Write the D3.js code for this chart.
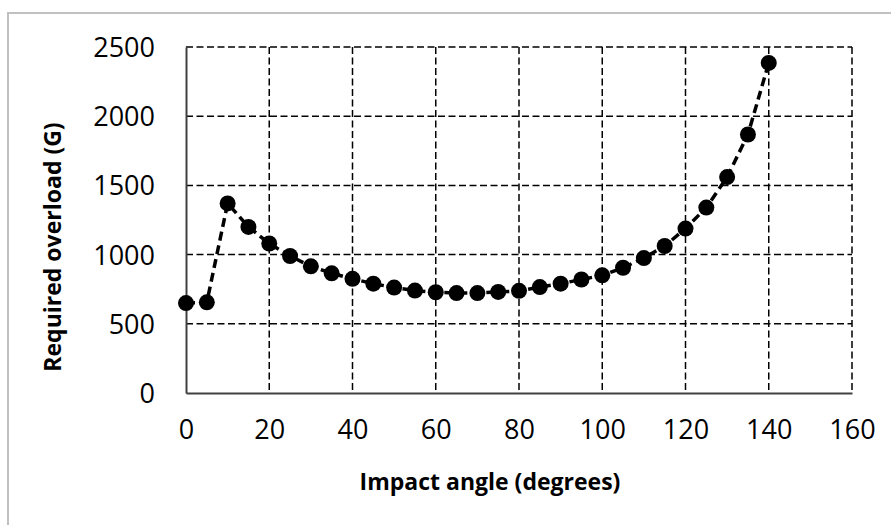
<!DOCTYPE html>
<html>
<head>
<meta charset="utf-8">
<script src="https://cdn.jsdelivr.net/npm/d3@7"></script>
<style>
  body { margin: 0; background: #fff; }
  svg { display: block; font-family: "Open Sans", sans-serif; }
  .tick-text { font-size: 27px; fill: #000; font-family: "Open Sans", sans-serif; }
  .axis-label { font-size: 23px; font-weight: bold; fill: #000; font-family: "Open Sans", sans-serif; }
  .grid-line { stroke: #000; stroke-width: 1.5; stroke-dasharray: 7 3.5; }
</style>
</head>
<body>
<svg id="chart" width="891" height="525"></svg>
<script>
// ── DATA ──────────────────────────────────────────────────────────────────
const angles = [0, 5, 10, 15, 20, 25, 30, 35, 40, 45, 50, 55, 60, 65, 70,
  75, 80, 85, 90, 95, 100, 105, 110, 115, 120, 125, 130, 135, 140];
const overload = [650, 655, 1370, 1200, 1080, 990, 915, 865, 825, 790, 762,
  740, 728, 722, 722, 730, 738, 765, 790, 820, 850, 905, 975, 1062, 1188,
  1340, 1560, 1868, 2385];
const xTicks = [0, 20, 40, 60, 80, 100, 120, 140, 160];
const yTicks = [0, 500, 1000, 1500, 2000, 2500];

const svg = d3.select("#chart");
const margin = { top: 47, right: 39, bottom: 132, left: 186 };
const width = 891, height = 525;
const innerWidth = width - margin.left - margin.right;
const innerHeight = height - margin.top - margin.bottom;

// outer frame (only top & left edges fall inside the picture)
svg.append("path")
  .attr("d", `M8,${height} V13 H${width}`)
  .attr("fill", "none")
  .attr("stroke", "#c0c0c0")
  .attr("stroke-width", 2);

const xScale = d3.scaleLinear().domain([0, 160]).range([0, innerWidth]);
const yScale = d3.scaleLinear().domain([0, 2500]).range([innerHeight, 0]);

const group = svg.append("g")
  .attr("transform", `translate(${margin.left},${margin.top})`);

// grid lines
group.append("g").selectAll("line")
  .data(xTicks.filter((d) => d > 0))
  .join("line")
  .attr("class", "grid-line")
  .attr("x1", (d) => xScale(d)).attr("x2", (d) => xScale(d))
  .attr("y1", 0).attr("y2", innerHeight);
group.append("g").selectAll("line")
  .data(yTicks.filter((d) => d > 0))
  .join("line")
  .attr("class", "grid-line")
  .attr("x1", 0).attr("x2", innerWidth)
  .attr("y1", (d) => yScale(d)).attr("y2", (d) => yScale(d));

// axes
const xAxis = group.append("g")
  .attr("transform", `translate(0,${innerHeight})`)
  .call(d3.axisBottom(xScale).tickValues(xTicks).tickFormat(d3.format("d"))
    .tickSize(0).tickPadding(27));
const yAxis = group.append("g")
  .call(d3.axisLeft(yScale).tickValues(yTicks).tickFormat(d3.format("d"))
    .tickSize(0).tickPadding(31));
[xAxis, yAxis].forEach((ax) => {
  ax.attr("font-family", null).attr("font-size", null);
  ax.select(".domain").attr("stroke", "#404040").attr("stroke-width", 2);
  ax.selectAll("text").attr("class", "tick-text").attr("dy", "0.35em");
});
xAxis.selectAll("text").attr("dy", "0.71em");

// axis labels
svg.append("text")
  .attr("class", "axis-label")
  .attr("x", 490).attr("y", 490)
  .attr("text-anchor", "middle")
  .text("Impact angle (degrees)");
svg.append("text")
  .attr("class", "axis-label")
  .attr("transform", "translate(61,247) rotate(-90)")
  .attr("text-anchor", "middle")
  .text("Required overload (G)");

// series
const pts = angles.map((a, i) => [a, overload[i]]);
group.append("path")
  .datum(pts)
  .attr("fill", "none")
  .attr("stroke", "#000")
  .attr("stroke-width", 3.5)
  .attr("stroke-dasharray", "9 5")
  .attr("d", d3.line().x((d) => xScale(d[0])).y((d) => yScale(d[1])));
group.append("g").selectAll("circle")
  .data(pts)
  .join("circle")
  .attr("cx", (d) => xScale(d[0]))
  .attr("cy", (d) => yScale(d[1]))
  .attr("r", 8)
  .attr("fill", "#000");
</script>
</body>
</html>
